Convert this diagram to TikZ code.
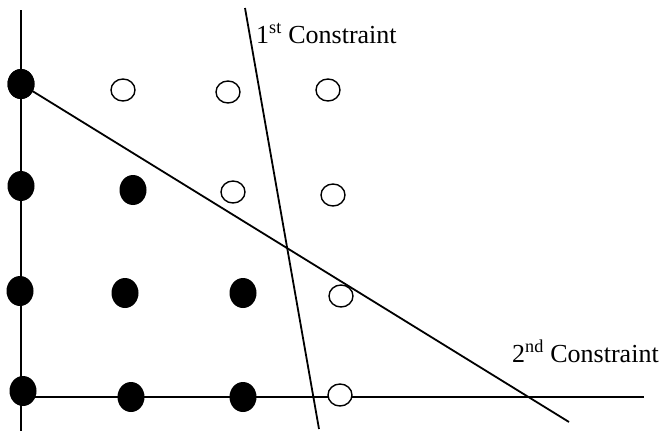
\documentclass[tikz,border=0pt]{standalone}
\usepackage{fontspec}
\setmainfont{Liberation Serif}
\usetikzlibrary{shapes.geometric}

\tikzset{
  feasible/.style={ellipse,fill=black,inner sep=0pt,minimum width=27pt,minimum height=30pt},
  infeasible/.style={ellipse,draw=black,line width=1.4pt,fill=white,inner sep=0pt,minimum width=24pt,minimum height=22pt},
  cline/.style={line width=1.8pt}
}

\begin{document}
\begin{tikzpicture}[x=1pt,y=-1pt]
  \useasboundingbox (0,0) rectangle (662,431);
  % axes
  \coordinate (ytop) at (21,10);
  \coordinate (ybot) at (21,431);
  \coordinate (xleft) at (23,397);
  \coordinate (xright) at (644,397);
  \draw[cline] (ytop)--(ybot);
  \draw[cline] (xleft)--(xright);
  % constraints
  \coordinate (c1top) at (245,8);
  \coordinate (c1bot) at (319,429);
  \coordinate (c2bot) at (569,422);
  \draw[cline] (c1top)--(c1bot);
  % row 1
  \node[feasible] (p14) at (21,84) {};
  \node[infeasible] (q14) at (123,90) {};
  \node[infeasible] (q24) at (228,92) {};
  \node[infeasible] (q34) at (328,90) {};
  % row 2
  \node[feasible] (p13) at (21,186) {};
  \node[feasible] (p23) at (133,190) {};
  \node[infeasible] (q23) at (233,192) {};
  \node[infeasible] (q33) at (333,195) {};
  % row 3
  \node[feasible] (p12) at (20,291) {};
  \node[feasible] (p22) at (125,293) {};
  \node[feasible] (p32) at (243,293) {};
  \node[infeasible] (q32) at (341,296) {};
  % row 4
  \node[feasible] (p11) at (23,391) {};
  \node[feasible] (p21) at (131,397) {};
  \node[feasible] (p31) at (243,397) {};
  \node[infeasible] (q31) at (340,395) {};
  \draw[cline] (p14.center)--(c2bot);
  \node[feasible] at (p14) {};
  % labels
  \node[anchor=base west,inner sep=0pt,font=\fontsize{26}{30}\selectfont] (lab1) at (256,43) {1\textsuperscript{st} Constraint};
  \node[anchor=base west,inner sep=0pt,font=\fontsize{26}{30}\selectfont] (lab2) at (512,362) {2\textsuperscript{nd} Constraint};
\end{tikzpicture}
\end{document}
